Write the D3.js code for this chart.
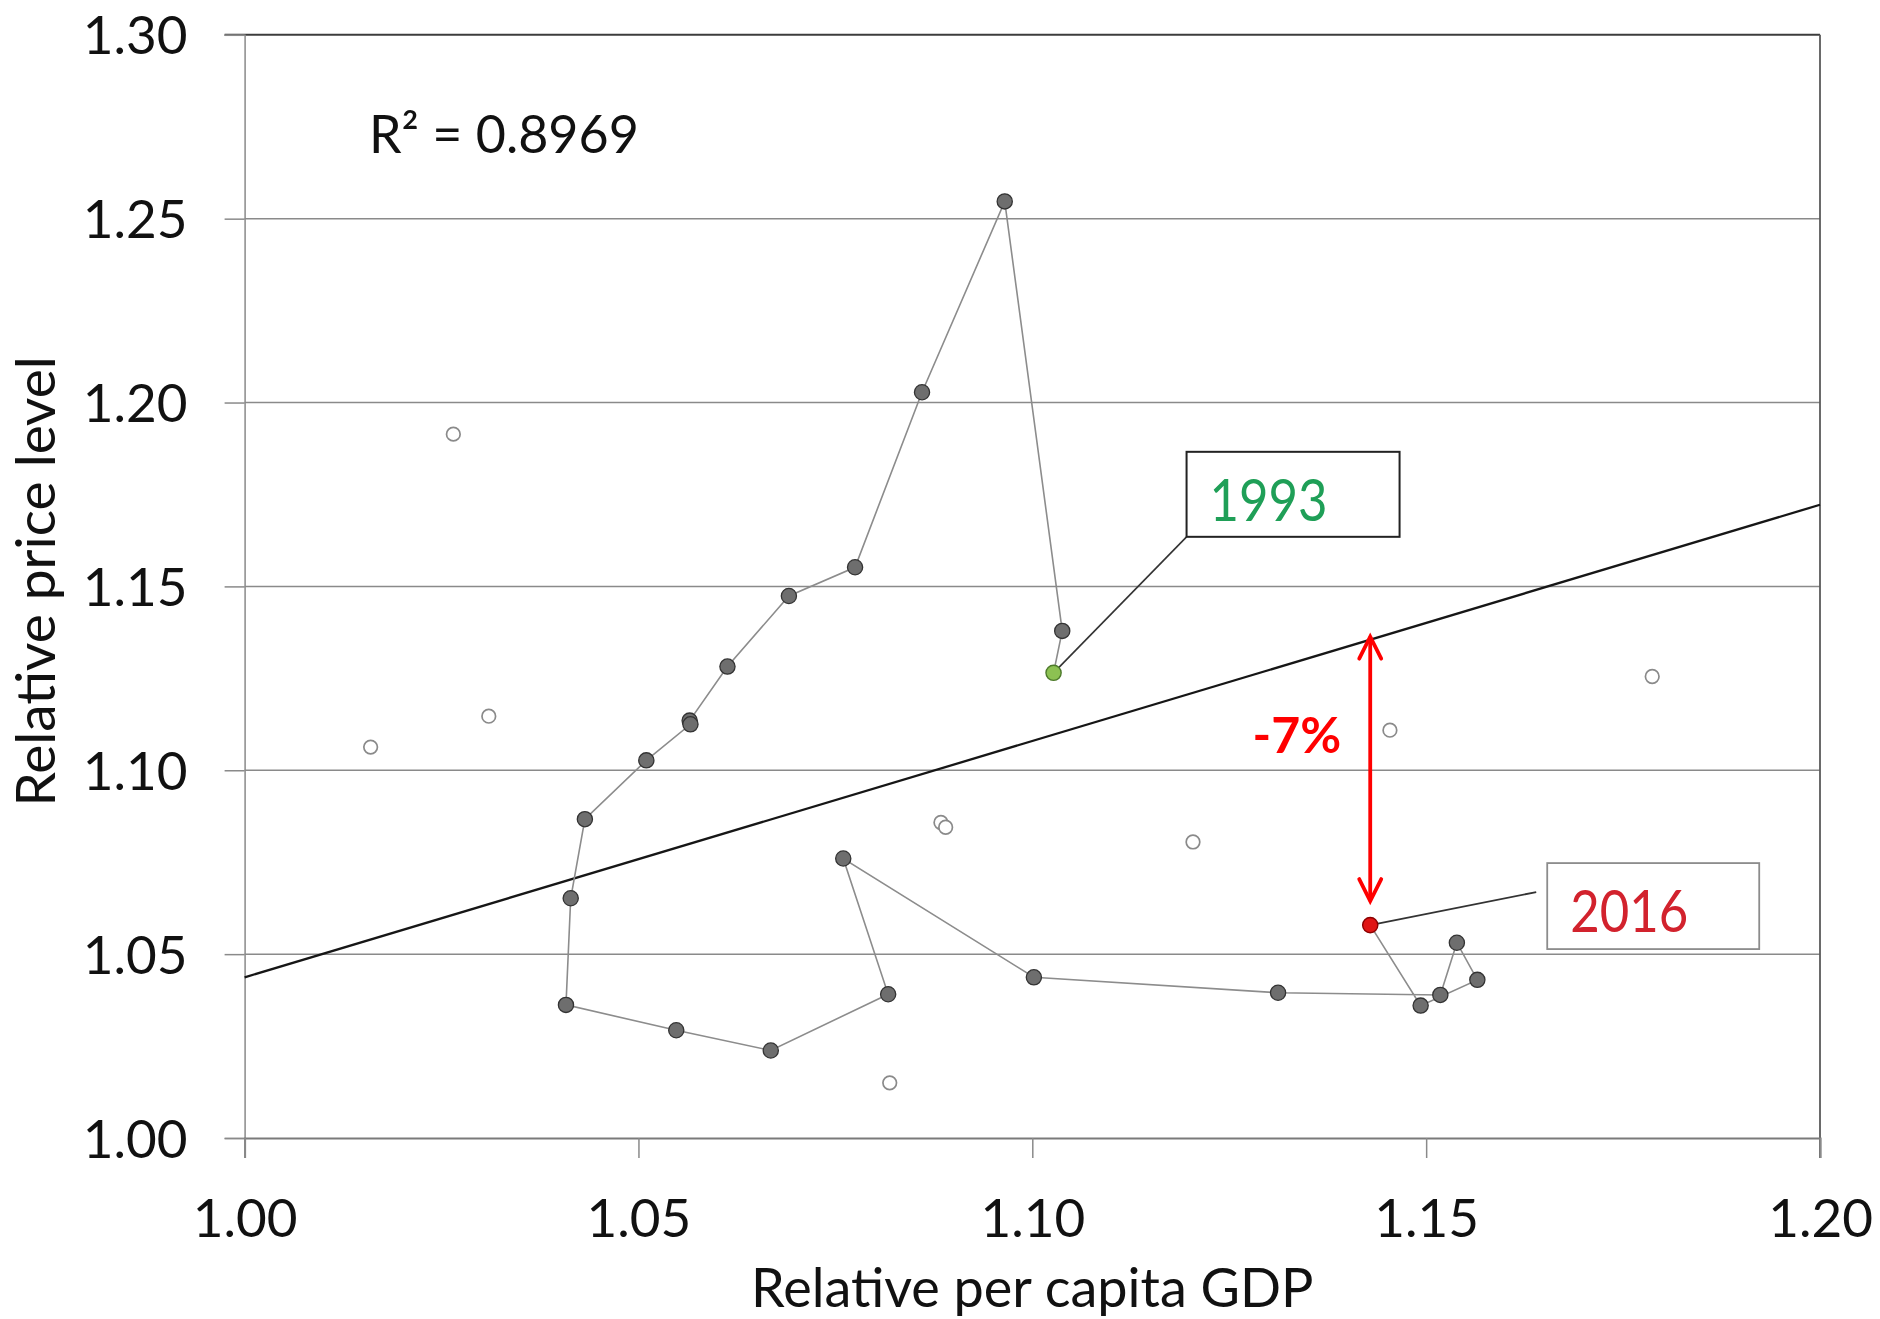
<!DOCTYPE html>
<html>
<head>
<meta charset="utf-8">
<script src="https://cdn.jsdelivr.net/npm/d3@7"></script>
<style>
  html, body { margin: 0; padding: 0; background: #fff; }
  svg { display: block; font-family: Lato, "Open Sans", sans-serif; }
</style>
</head>
<body>
<svg id="chart" width="1880" height="1319"></svg>
<script>
// Yearly path: relative per capita GDP vs relative price level
const years = [1993, 1994, 1995, 1996, 1997, 1998, 1999, 2000, 2001, 2002, 2003, 2004,
               2005, 2006, 2007, 2008, 2009, 2010, 2011, 2012, 2013, 2014, 2015, 2016];
const gdpRel = [1.1027, 1.1038, 1.0965, 1.0860, 1.0775, 1.0691, 1.0613, 1.0565, 1.0566, 1.0510, 1.0432, 1.0414,
                1.0408, 1.0548, 1.0668, 1.0817, 1.0760, 1.1002, 1.1312, 1.1518, 1.1539, 1.1565, 1.1493, 1.1429];
const priceRel = [1.1265, 1.1379, 1.2547, 1.2028, 1.1552, 1.1474, 1.1282, 1.1135, 1.1125, 1.1027, 1.0867, 1.0652,
                  1.0362, 1.0293, 1.0238, 1.0391, 1.0760, 1.0437, 1.0395, 1.0389, 1.0531, 1.0430, 1.0360, 1.0579];

// Other observations (hollow markers)
const otherGdp = [1.0160, 1.0265, 1.0310, 1.0884, 1.0890, 1.0819, 1.1204, 1.1454, 1.1787];
const otherPrice = [1.1063, 1.1914, 1.1147, 1.0858, 1.0845, 1.0150, 1.0805, 1.1109, 1.1255];

// Axis ticks
const xTickValues = [1.00, 1.05, 1.10, 1.15, 1.20];
const yTickValues = [1.00, 1.05, 1.10, 1.15, 1.20, 1.25, 1.30];

// Linear trend: price = intercept + slope * gdp
const trendIntercept = 0.4012;
const trendSlope = 0.6425;
const rSquared = 0.8969;
const gapLabel = "-7%";

const svg = d3.select("#chart");
const plot = { left: 244.6, right: 1820, top: 34.8, bottom: 1138 };

const x = d3.scaleLinear().domain([1.0, 1.2]).range([plot.left, plot.right]);
const y = d3.scaleLinear().domain([1.0, 1.3]).range([plot.bottom, plot.top]);
const fmt = d3.format(".2f");
const trend = g => trendIntercept + trendSlope * g;

// Horizontal gridlines
svg.append("g")
  .selectAll("line")
  .data(yTickValues.filter(v => v > 1.0 && v < 1.3))
  .join("line")
  .attr("x1", plot.left).attr("x2", plot.right)
  .attr("y1", d => y(d)).attr("y2", d => y(d))
  .attr("stroke", "#8a8a8a").attr("stroke-width", 1.5);

// Plot frame: top and right
svg.append("line")
  .attr("x1", plot.left - 20).attr("x2", plot.right)
  .attr("y1", y(1.3)).attr("y2", y(1.3))
  .attr("stroke", "#3c3c3c").attr("stroke-width", 2);
svg.append("line")
  .attr("x1", plot.right).attr("x2", plot.right)
  .attr("y1", plot.top).attr("y2", plot.bottom + 20)
  .attr("stroke", "#5a5a5a").attr("stroke-width", 1.8);

// Y axis
const yAxis = svg.append("g")
  .attr("transform", `translate(${plot.left},0)`)
  .call(d3.axisLeft(y).tickValues(yTickValues).tickFormat(fmt).tickSize(20).tickPadding(37));
yAxis.select(".domain").attr("stroke", "#8a8a8a").attr("stroke-width", 1.5);
yAxis.selectAll(".tick line").attr("stroke", "#8a8a8a").attr("stroke-width", 1.5);
yAxis.selectAll(".tick text")
  .attr("font-family", "Lato, 'Open Sans', sans-serif")
  .attr("font-size", 53).attr("fill", "#111").attr("dy", "0.36em");

// X axis
const xAxis = svg.append("g")
  .attr("transform", `translate(0,${plot.bottom})`)
  .call(d3.axisBottom(x).tickValues(xTickValues).tickFormat(fmt).tickSize(20).tickPadding(41));
xAxis.select(".domain").attr("stroke", "#7a7a7a").attr("stroke-width", 2);
xAxis.selectAll(".tick line").attr("stroke", "#8a8a8a").attr("stroke-width", 1.5);
xAxis.selectAll(".tick text")
  .attr("font-family", "Lato, 'Open Sans', sans-serif")
  .attr("font-size", 53).attr("fill", "#111").attr("dy", "0.71em");

// Axis titles
svg.append("text")
  .attr("x", (plot.left + plot.right) / 2).attr("y", 1307)
  .attr("text-anchor", "middle").attr("font-size", 54).attr("fill", "#111")
  .text("Relative per capita GDP");
svg.append("text")
  .attr("transform", `translate(55,${(plot.top + plot.bottom) / 2 - 5}) rotate(-90)`)
  .attr("text-anchor", "middle").attr("font-size", 55).attr("fill", "#111")
  .text("Relative price level");

// R² label
svg.append("text")
  .attr("x", 369).attr("y", 153)
  .attr("font-size", 52).attr("fill", "#111")
  .text(`R\u00B2 = ${rSquared}`);

// Trend line across the plot
svg.append("line")
  .attr("x1", x(1.0)).attr("y1", y(trend(1.0)))
  .attr("x2", x(1.2)).attr("y2", y(trend(1.2)))
  .attr("stroke", "#161616").attr("stroke-width", 2.3);

// Connected yearly path
const pts = years.map((yr, i) => ({ yr, g: gdpRel[i], p: priceRel[i] }));
svg.append("path")
  .datum(pts)
  .attr("fill", "none").attr("stroke", "#8c8c8c").attr("stroke-width", 1.6)
  .attr("d", d3.line().x(d => x(d.g)).y(d => y(d.p)));

// Hollow markers
svg.append("g")
  .selectAll("circle")
  .data(otherGdp.map((g, i) => ({ g, p: otherPrice[i] })))
  .join("circle")
  .attr("cx", d => x(d.g)).attr("cy", d => y(d.p)).attr("r", 6.8)
  .attr("fill", "#fff").attr("stroke", "#8a8a8a").attr("stroke-width", 1.7);

// Path markers
const first = pts[0], last = pts[pts.length - 1];
svg.append("g")
  .selectAll("circle")
  .data(pts.slice(1, -1))
  .join("circle")
  .attr("cx", d => x(d.g)).attr("cy", d => y(d.p)).attr("r", 7.6)
  .attr("fill", "#6e6e6e").attr("stroke", "#333").attr("stroke-width", 1.3);

// Callout for the first year
const fx = x(first.g), fy = y(first.p);
svg.append("line")
  .attr("x1", fx).attr("y1", fy).attr("x2", fx + 133).attr("y2", fy - 136)
  .attr("stroke", "#333").attr("stroke-width", 1.6);
svg.append("rect")
  .attr("x", fx + 133).attr("y", fy - 221).attr("width", 213).attr("height", 85)
  .attr("fill", "#fff").attr("stroke", "#222").attr("stroke-width", 2);
svg.append("text")
  .attr("x", fx + 156).attr("y", fy - 152)
  .attr("font-size", 59).attr("fill", "#1f9f57")
  .attr("textLength", 118).attr("lengthAdjust", "spacingAndGlyphs")
  .text(first.yr);
svg.append("circle")
  .attr("cx", fx).attr("cy", fy).attr("r", 7.6)
  .attr("fill", "#8cc152").attr("stroke", "#4d7a2b").attr("stroke-width", 1.4);

// Callout for the last year
const lx = x(last.g), ly = y(last.p);
svg.append("line")
  .attr("x1", lx).attr("y1", ly).attr("x2", lx + 166).attr("y2", ly - 33)
  .attr("stroke", "#333").attr("stroke-width", 1.8);
svg.append("rect")
  .attr("x", lx + 177).attr("y", ly - 62).attr("width", 212).attr("height", 86)
  .attr("fill", "#fff").attr("stroke", "#8c8c8c").attr("stroke-width", 1.8);
svg.append("text")
  .attr("x", lx + 200).attr("y", ly + 7)
  .attr("font-size", 59).attr("fill", "#d2222d")
  .attr("textLength", 118).attr("lengthAdjust", "spacingAndGlyphs")
  .text(last.yr);
svg.append("circle")
  .attr("cx", lx).attr("cy", ly).attr("r", 7.6)
  .attr("fill", "#e01515").attr("stroke", "#8b0000").attr("stroke-width", 1.4);

// Gap between trend and the last observation: double-headed arrow
const aTop = y(trend(last.g)) - 3;
const aBot = ly - 24;
const arrow = svg.append("g").attr("stroke", "#ff0000").attr("stroke-width", 3.8)
  .attr("fill", "none").attr("stroke-linecap", "round").attr("stroke-linejoin", "miter");
arrow.append("line").attr("x1", lx).attr("x2", lx).attr("y1", aTop + 1).attr("y2", aBot - 1);
arrow.append("polyline").attr("points", `${lx - 11},${aTop + 22} ${lx},${aTop} ${lx + 11},${aTop + 22}`);
arrow.append("polyline").attr("points", `${lx - 11},${aBot - 22} ${lx},${aBot} ${lx + 11},${aBot - 22}`);

svg.append("text")
  .attr("x", lx - 29).attr("y", aTop + 116)
  .attr("text-anchor", "end").attr("font-size", 50).attr("font-weight", 700)
  .attr("fill", "#ff0000")
  .text(gapLabel);
</script>
</body>
</html>
